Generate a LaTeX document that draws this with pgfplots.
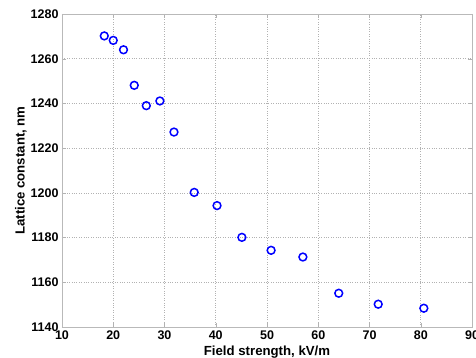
\documentclass[border=0pt]{standalone}
\usepackage{pgfplots}
\pgfplotsset{compat=1.18}
\usepackage{fontspec}
\setmainfont{Liberation Sans}
\begin{document}
\begin{tikzpicture}
\begin{axis}[
  at={(0,0)}, anchor=south west,
  scale only axis, width=410pt, height=313pt,
  xmin=10, xmax=90, ymin=1140, ymax=1280,
  xtick={10,20,...,90}, ytick={1140,1160,...,1280},
  grid=major,
  major grid style={gray!60, dotted, line width=0.6pt},
  axis line style={gray!55, line width=0.9pt},
  tick style={gray!60},
  tick align=inside,
  major tick length=4pt,
  ticklabel style={font=\bfseries\fontsize{12.5}{12.5}\selectfont},
  /pgf/number format/assume math mode=true,
  /pgf/number format/1000 sep={},
  xlabel={\bfseries Field strength, kV/m},
  ylabel={\bfseries Lattice constant, nm},
  label style={font=\bfseries\fontsize{13.2}{13.2}\selectfont},
  xlabel style={yshift=0pt},
  ylabel style={yshift=-3pt},
  xticklabel style={yshift=0pt},
]
\addplot[only marks, mark=o, mark size=3.9pt, color={rgb,255:red,0;green,0;blue,255}, line width=1.5pt] coordinates {
(18.25,1270.2) (20.0,1268.2) (22.0,1264.0) (24.1,1248.1) (26.45,1239.0)
(29.1,1241.1) (31.85,1227.2) (35.8,1200.2) (40.25,1194.3) (45.1,1180.1)
(50.8,1174.3) (57.0,1171.3) (64.0,1155.1) (71.7,1150.2) (80.6,1148.4)
};
\end{axis}
\pgfresetboundingbox
\path[use as bounding box] (-62pt,-31pt) rectangle (414pt,327pt);
\end{tikzpicture}
\end{document}
